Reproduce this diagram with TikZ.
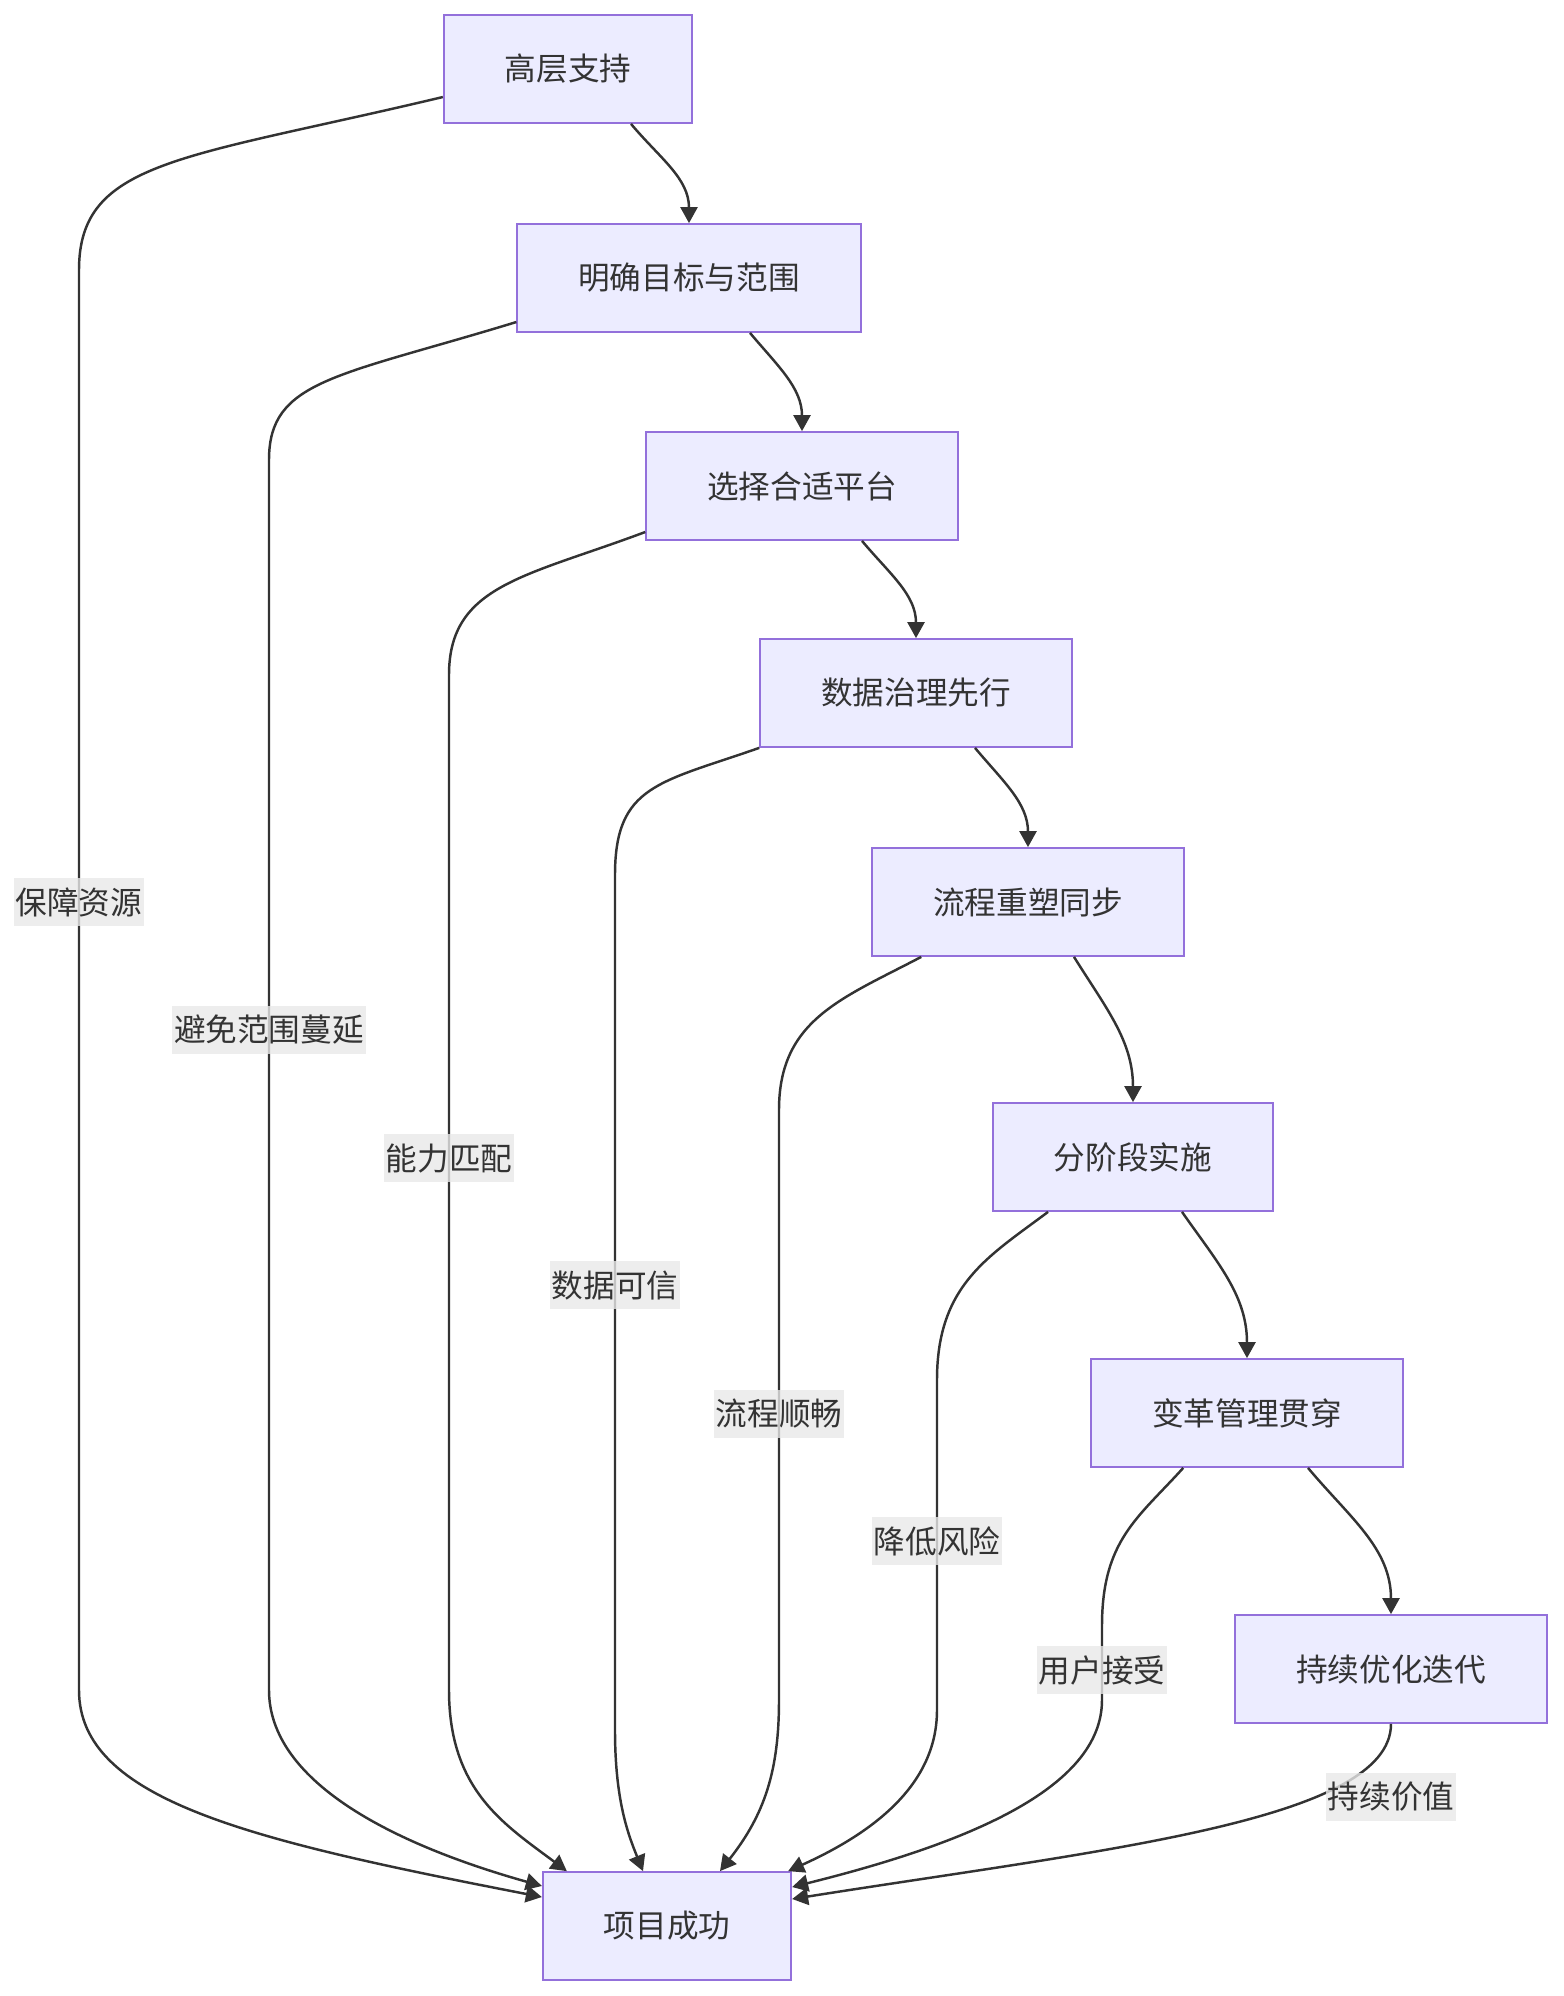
\documentclass[tikz,border=0pt]{standalone}
\usepackage{fontspec}
\setmainfont{Noto Sans CJK SC}
\definecolor{NodeFill}{RGB}{236,236,255}
\definecolor{NodeEdge}{RGB}{147,112,219}
\definecolor{InkGray}{RGB}{51,51,51}
\definecolor{LabelGray}{RGB}{232,232,232}
\usetikzlibrary{arrows.meta}

\tikzset{
  flowbox/.style={draw=NodeEdge,fill=NodeFill,line width=0.5pt,text=InkGray,
    minimum height=1.08cm,inner xsep=0.61cm,font=\fontsize{9}{11}\selectfont},
  flowlbl/.style={fill=LabelGray,fill opacity=0.8,text opacity=1,text=InkGray,
    inner xsep=0.02cm,inner ysep=0pt,minimum height=0.48cm,font=\fontsize{9}{11}\selectfont},
  flowarrow/.style={draw=InkGray,line width=0.7pt,-{Triangle[length=0.16cm,width=0.17cm]}}
}

\begin{document}
\begin{tikzpicture}
  \useasboundingbox (0,0) rectangle (15.64,-19.96);

  \node[flowbox] (support)  at (5.68,-0.69)   {高层支持};
  \node[flowbox] (goals)    at (6.89,-2.78)   {明确目标与范围};
  \node[flowbox] (platform) at (8.02,-4.86)   {选择合适平台};
  \node[flowbox] (data)     at (9.16,-6.93)   {数据治理先行};
  \node[flowbox] (process)  at (10.28,-9.02)  {流程重塑同步};
  \node[flowbox] (phased)   at (11.33,-11.57) {分阶段实施};
  \node[flowbox] (change)   at (12.47,-14.13) {变革管理贯穿};
  \node[flowbox] (optimize) at (13.91,-16.69) {持续优化迭代};
  \node[flowbox] (success)  at (6.67,-19.26)  {项目成功};

  \draw[flowarrow] ([xshift=0.63cm]support.south) to[out=-50,in=90] (goals.north);
  \draw[flowarrow] ([xshift=0.61cm]goals.south) to[out=-50,in=90] (platform.north);
  \draw[flowarrow] ([xshift=0.60cm]platform.south) to[out=-50,in=90] (data.north);
  \draw[flowarrow] ([xshift=0.59cm]data.south) to[out=-50,in=90] (process.north);
  \draw[flowarrow] ([xshift=0.46cm]process.south) to[out=-58,in=90] (phased.north);
  \draw[flowarrow] ([xshift=0.49cm]phased.south) to[out=-55,in=90] (change.north);
  \draw[flowarrow] ([xshift=0.61cm]change.south) to[out=-50,in=90] (optimize.north);

  \draw[flowarrow] ([yshift=-0.28cm]support.west) .. controls +(-2.6,-0.62) and +(0,1.1) .. (0.79,-2.7)
    -- (0.79,-16.9) .. controls +(0,-1.1) and +(-2.93,0.57) .. ([yshift=0.29cm]success.west);
  \draw[flowarrow] ([yshift=-0.44cm]goals.west) .. controls +(-1.8,-0.55) and +(0,0.8) .. (2.69,-4.6)
    -- (2.69,-16.9) .. controls +(0,-0.9) and +(-1.53,0.43) .. ([yshift=0.40cm]success.west);
  \draw[flowarrow] ([yshift=-0.46cm]platform.west) .. controls +(-1.2,-0.45) and +(0,0.9) .. (4.49,-6.75)
    -- (4.49,-16.9) .. controls +(0,-1.0) and +(-0.63,0.47) .. ([xshift=0.25cm]success.north west);
  \draw[flowarrow] (data.south west) .. controls +(-1.0,-0.35) and +(0,0.9) .. (6.15,-8.75)
    -- (6.15,-17.3) .. controls +(0,-0.7) and +(-0.15,0.37) .. ([xshift=-0.24cm]success.north);
  \draw[flowarrow] ([xshift=0.50cm]process.south west) .. controls +(-0.8,-0.42) and +(0,0.9) .. (7.79,-11.1)
    -- (7.79,-17.0) .. controls +(0,-0.7) and +(0.45,0.57) .. ([xshift=0.53cm]success.north);
  \draw[flowarrow] ([xshift=0.56cm]phased.south west) .. controls +(-0.6,-0.45) and +(0,0.95) .. (9.37,-13.8)
    -- (9.37,-17.1) .. controls +(0,-0.7) and +(0.93,0.42) .. ([xshift=-0.04cm]success.north east);
  \draw[flowarrow] ([xshift=0.93cm]change.south west) .. controls +(-0.45,-0.5) and +(0,0.86) .. (11.02,-16.26)
    -- (11.02,-17.0) .. controls +(0,-0.9) and +(1.69,0.42) .. ([yshift=0.39cm]success.east);
  \draw[flowarrow] (optimize.south) .. controls +(0,-0.97) and +(3.09,0.49) .. ([yshift=0.27cm]success.east);

  \node[flowlbl] (lblres)    at (0.79,-9.02)   {保障资源};
  \node[flowlbl] (lblscope)  at (2.69,-10.30)  {避免范围蔓延};
  \node[flowlbl] (lblfit)    at (4.49,-11.58)  {能力匹配};
  \node[flowlbl] (lbltrust)  at (6.15,-12.85)  {数据可信};
  \node[flowlbl] (lblflow)   at (7.79,-14.14)  {流程顺畅};
  \node[flowlbl] (lblrisk)   at (9.37,-15.41)  {降低风险};
  \node[flowlbl] (lbluser)   at (11.02,-16.70) {用户接受};
  \node[flowlbl] (lblvalue)  at (13.91,-17.97) {持续价值};
\end{tikzpicture}
\end{document}
